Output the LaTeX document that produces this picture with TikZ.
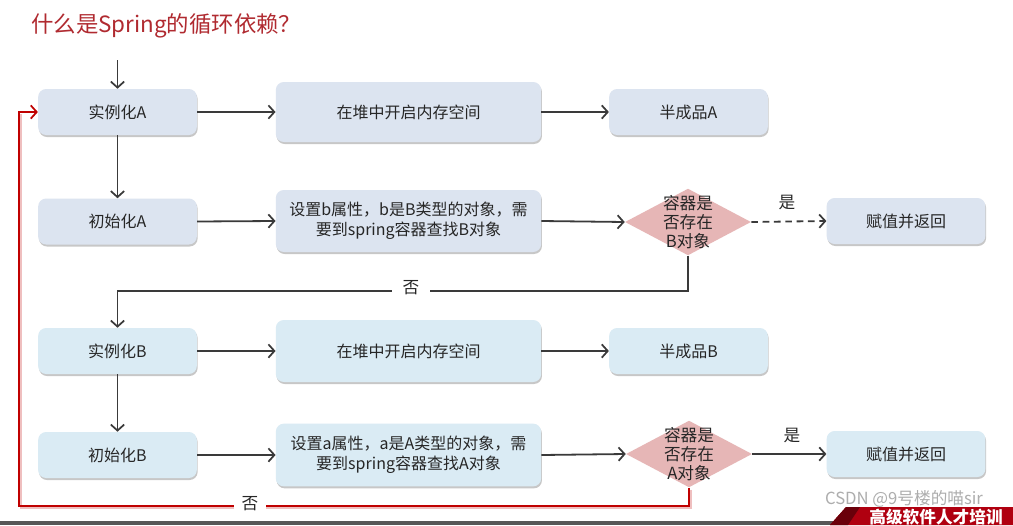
\documentclass[tikz,border=0pt]{standalone}
\usepackage{fontspec}
\setmainfont{Noto Sans CJK SC}
\usetikzlibrary{arrows.meta,shadows,shapes.geometric}
\definecolor{boxA}{HTML}{DCE4F0}
\definecolor{boxB}{HTML}{DAEBF4}
\definecolor{diafill}{HTML}{E6B6B6}
\definecolor{linecol}{HTML}{3A3A3A}
\definecolor{redline}{HTML}{C00000}
\definecolor{titlered}{HTML}{B02A30}
\definecolor{txt}{HTML}{262626}
\definecolor{bannerred}{HTML}{B00010}
\tikzset{
  box/.style={rounded corners=6pt, draw=none, text=txt, align=center, inner sep=0pt,
    font=\fontsize{12}{15}\selectfont,
    drop shadow={shadow xshift=0.6pt, shadow yshift=-1.5pt, fill=black, opacity=0.22}},
  smallbox/.style={box, minimum width=119pt, minimum height=34.5pt},
  widebox/.style={box, minimum width=199pt, minimum height=45pt},
  rowA/.style={fill=boxA},
  rowB/.style={fill=boxB},
  dia/.style={diamond, fill=diafill, draw=none, inner sep=0pt, minimum width=94.5pt, minimum height=50pt},
  diatext/.style={text=txt, align=center, font=\fontsize{12.5}{14.2}\selectfont, inner sep=0pt},
  arr/.style={draw=linecol, line width=1.35pt, -{Straight Barb[length=4.5pt,width=10pt,line width=1.3pt]}},
  redarr/.style={draw=redline, line width=1.4pt, -{Straight Barb[length=4.5pt,width=10pt,line width=1.3pt]}},
  lbl/.style={text=txt, font=\fontsize{12.5}{14}\selectfont, inner sep=2pt},
}
\begin{document}
\begin{tikzpicture}[x=0.75pt,y=-0.75pt]
\useasboundingbox (0,0) rectangle (1013,525);
\fill[white] (0,0) rectangle (1013,525);

% title
\node[anchor=west, text=titlered, font=\fontsize{16.8}{20}\selectfont, inner sep=0pt] (title) at (31,26) {什么是Spring的循环依赖？};

% row 1
\node[smallbox, rowA] (instA) at (117.5,112) {实例化A};
\node[widebox, rowA] (heapA) at (408.5,112) {在堆中开启内存空间};
\node[smallbox, rowA] (halfA) at (688.5,112) {半成品A};
% row 2
\node[smallbox, rowA] (initA) at (117.5,221.5) {初始化A};
\node[widebox, rowA, minimum height=46.5pt] (setB) at (408.5,221) {设置b属性，b是B类型的对象，需\\要到spring容器查找B对象};
\node[dia] (d1) at (688,222) {};
\node[diatext] (d1t) at (688,222) {容器是\\否存在\\B对象};
\node[smallbox, rowA] (retA) at (906,221) {赋值并返回};
% row 3
\node[smallbox, rowB] (instB) at (117.5,351) {实例化B};
\node[widebox, rowB, minimum height=46.5pt] (heapB) at (408.5,351) {在堆中开启内存空间};
\node[smallbox, rowB] (halfB) at (688.5,351) {半成品B};
% row 4
\node[smallbox, rowB] (initB) at (117.5,455) {初始化B};
\node[widebox, rowB, minimum height=47pt] (setA) at (408.5,455) {设置a属性，a是A类型的对象，需\\要到spring容器查找A对象};
\node[dia] (d2) at (689,454) {};
\node[diatext] (d2t) at (689,454) {容器是\\否存在\\A对象};
\node[smallbox, rowB] (retB) at (906,454) {赋值并返回};

% connectors
\coordinate (start) at (117.5,60);
\draw[arr] (start) -- (instA.north);
\draw[arr] (instA.east) -- (heapA.west);
\draw[arr] (heapA.east) -- (halfA.west);
\draw[arr] (instA.south) -- (initA.north);
\draw[arr] (initA.east) -- (setB.west);
\draw[arr] (setB.east) -- (d1.west);
\draw[arr, dash pattern=on 5pt off 3.5pt] (d1.east) -- (retA.west);
\node[lbl] (yes1) at (787,203) {是};
\coordinate (no1) at (688,291);
\draw[arr] (d1.south) -- (no1) -| (instB.north);
\node[lbl, fill=white, inner xsep=8pt] (no1l) at (411,288) {否};

\draw[arr] (instB.east) -- (heapB.west);
\draw[arr] (heapB.east) -- (halfB.west);
\draw[arr] (instB.south) -- (initB.north);
\draw[arr] (initB.east) -- (setA.west);
\draw[arr] (setA.east) -- (d2.west);
\draw[arr] (d2.east) -- (retB.west);
\node[lbl] (yes2) at (792,436) {是};

\coordinate (no2) at (19,506);
\draw[redline!25, line width=2pt] ([xshift=1.5pt,yshift=-1.5pt]d2.south) |- ([xshift=1.5pt,yshift=-1.5pt]no2) -- ([xshift=1.5pt]19,114);
\draw[redarr] (d2.south) |- (no2) |- (instA.west);
\node[lbl, fill=white, inner xsep=6pt] (no2l) at (250,504) {否};

% bottom strip
\fill[linecol!85] (0,521) rectangle (850,525);
\fill[bannerred] (830,525) -- (846,507) -- (1013,507) -- (1013,525) -- cycle;
\fill[bannerred!60!black] (830,525) -- (846,507) -- (860,507) -- (848,525) -- cycle;
\node[text=white, font=\bfseries\fontsize{12.5}{14}\selectfont, inner sep=0pt] (banner) at (936,517.5) {高级软件人才培训};
\node[text=gray!75, opacity=0.85, font=\fontsize{12.5}{14}\selectfont, inner sep=0pt] (wm) at (904,499) {CSDN @9号楼的喵sir};
\end{tikzpicture}
\end{document}
